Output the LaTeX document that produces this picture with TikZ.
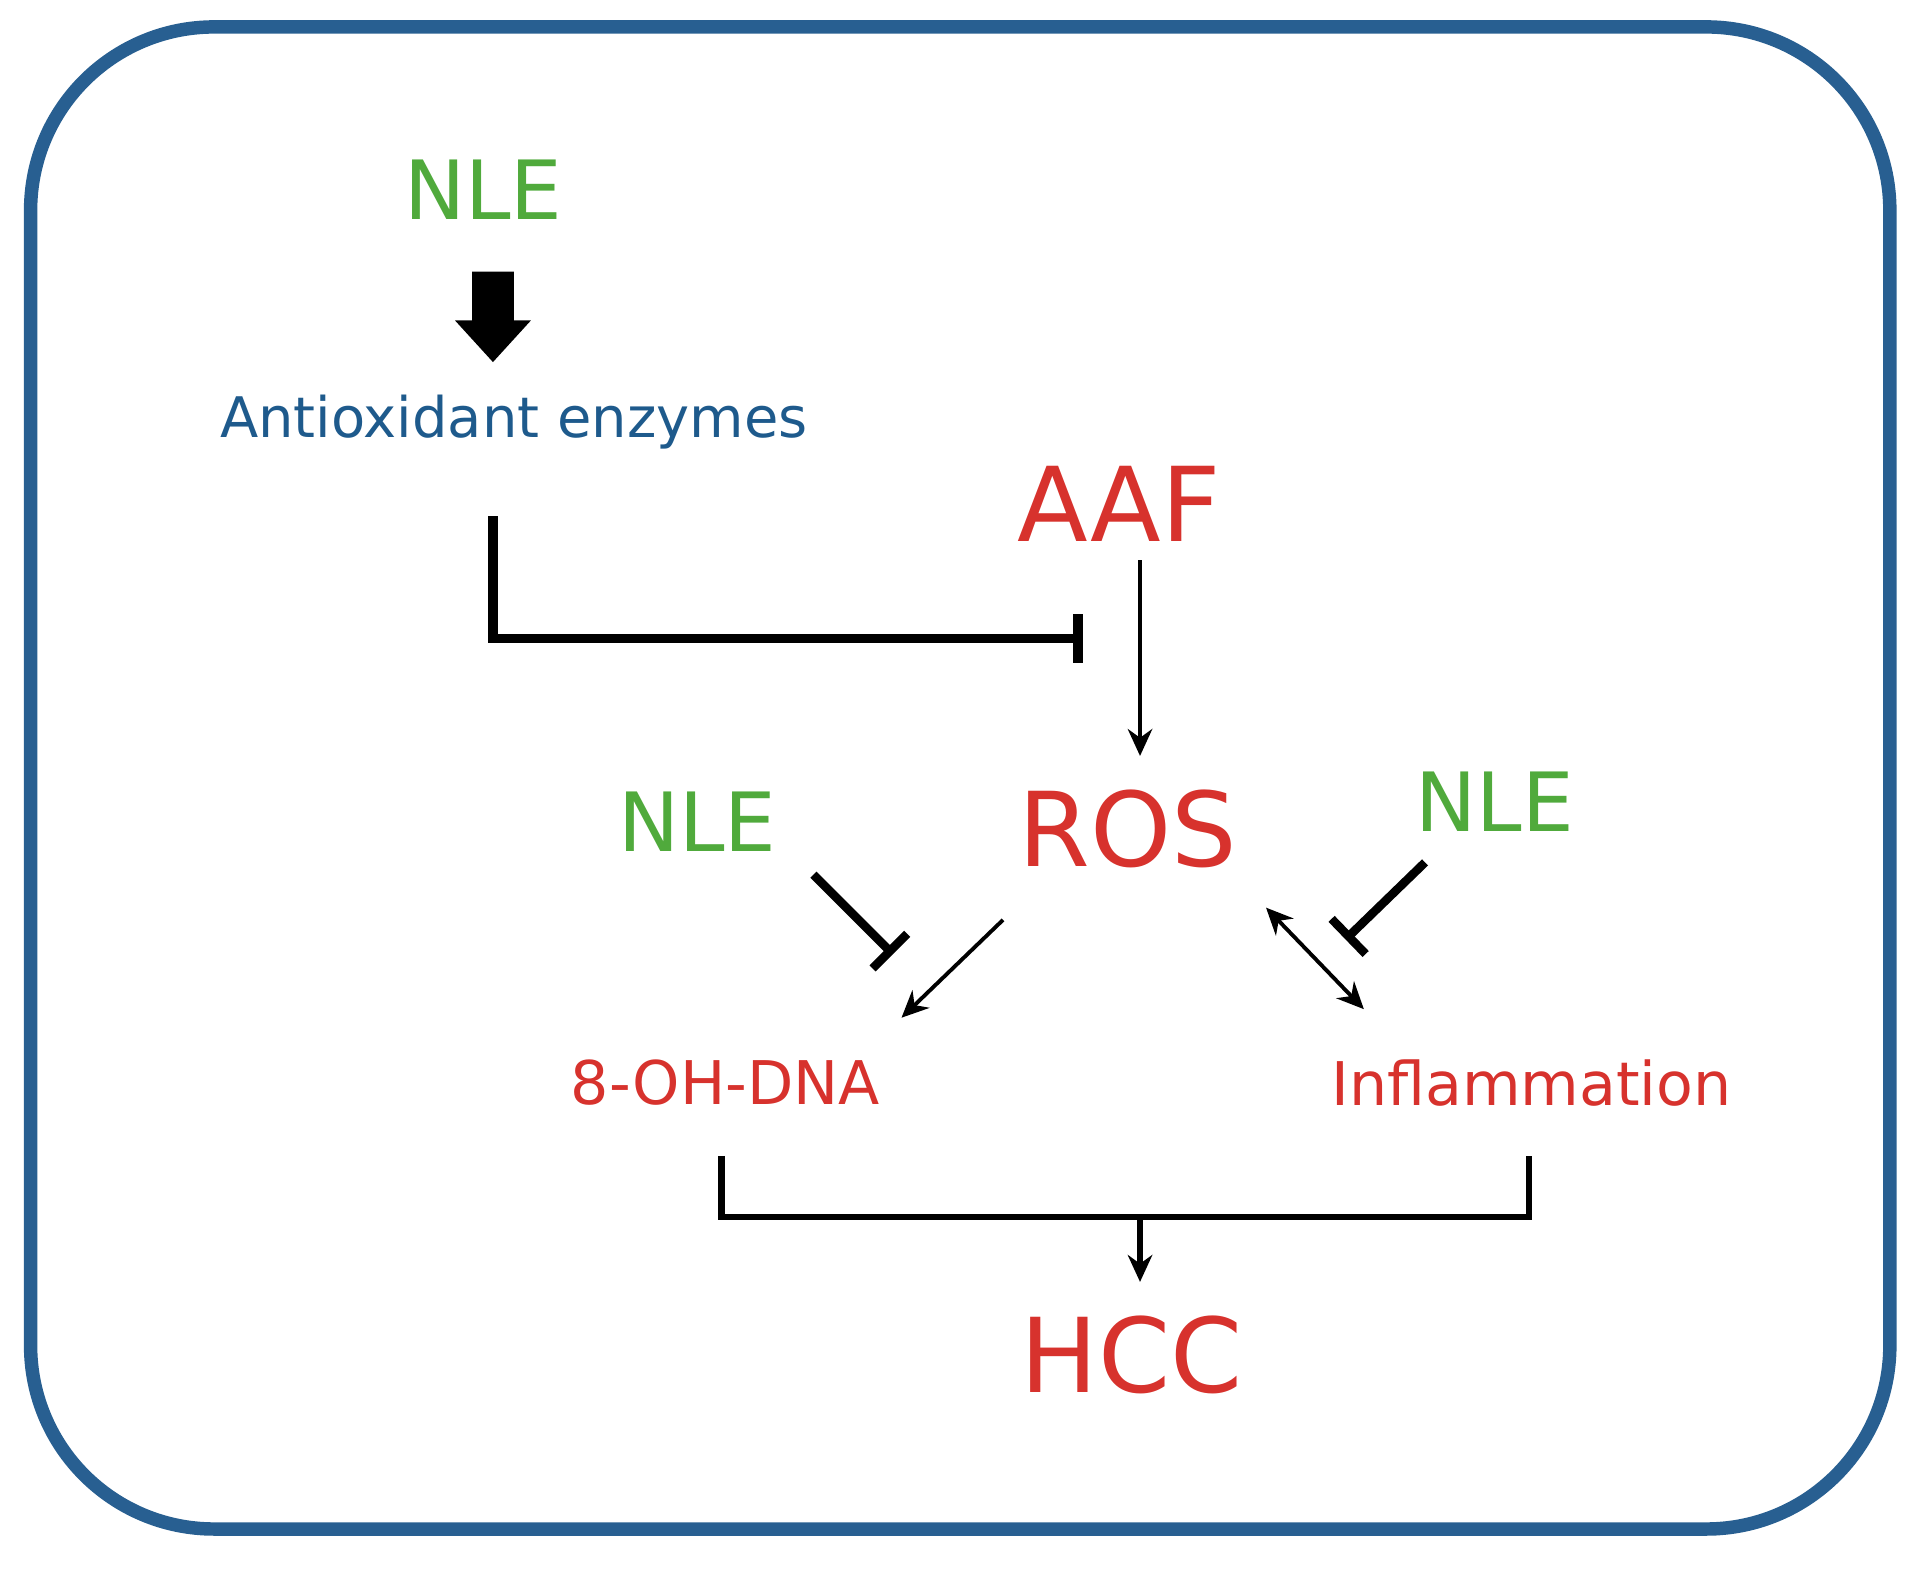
\documentclass[tikz,border=0pt]{standalone}
\usepackage{fontspec}
\setmainfont{DejaVu Sans}
\usetikzlibrary{arrows.meta}
\definecolor{nlegreen}{RGB}{80,170,60}
\definecolor{redtxt}{RGB}{215,50,45}
\definecolor{bluetxt}{RGB}{30,90,140}
\definecolor{framecol}{RGB}{40,95,145}
\tikzset{
  nle/.style={text=nlegreen, font=\fontsize{19}{19}\selectfont},
  big/.style={text=redtxt, font=\fontsize{24}{24}\selectfont},
  small/.style={text=redtxt, font=\fontsize{14}{14}\selectfont},
  act/.style={-{Stealth[length=2.2mm,width=2mm]}, line width=0.9pt},
  inh/.style={-{Bar[width=4mm]}, line width=2pt},
}
\begin{document}
\begin{tikzpicture}[x=0.01cm,y=-0.01cm]
  \useasboundingbox (0,0) rectangle (1568,1284);
  \draw[framecol, line width=1.1mm, rounded corners=1.5cm] (25,22) rectangle (1545,1250);

  \node[nle]                                  (nle1) at (395,155) {NLE};
  \node[text=bluetxt, font=\fontsize{13}{13}\selectfont] (anti) at (420,345) {Antioxidant enzymes};
  \node[big]                                  (aaf)  at (915,412) {AAF};
  \node[big]                                  (ros)  at (922,678) {ROS};
  \node[nle]                                  (nle2) at (570,672) {NLE};
  \node[nle]                                  (nle3) at (1222,655) {NLE};
  \node[small]                                (dna)  at (593,885) {8-OH-DNA};
  \node[small]                                (infl) at (1252,885) {Inflammation};
  \node[big]                                  (hcc)  at (925,1108) {HCC};

  % block arrow
  \fill (386,222) -- (420,222) -- (420,262) -- (434,262) -- (403,296)
        -- (372,262) -- (386,262) -- cycle;

  \coordinate (a1) at (403,422);
  \coordinate (a2) at (403,522);
  \coordinate (a3) at (885,522);
  \draw[inh, line width=2.2pt] (a1) -- (a2) -- (a3);

  \coordinate (r1) at (932,458);
  \coordinate (r2) at (932,618);
  \draw[act] (r1) -- (r2);

  \coordinate (l1) at (665,715);
  \coordinate (l2) at (730,780);
  \draw[inh] (l1) -- (l2);
  \coordinate (d1) at (820,752);
  \coordinate (d2) at (737,832);
  \draw[act] (d1) -- (d2);

  \coordinate (i1) at (1035,742);
  \coordinate (i2) at (1115,825);
  \draw[act, {Stealth[length=2.2mm,width=2mm]}-{Stealth[length=2.2mm,width=2mm]}] (i1) -- (i2);
  \coordinate (n1) at (1165,705);
  \coordinate (n2) at (1100,768);
  \draw[inh] (n1) -- (n2);

  \coordinate (b1) at (590,945);
  \coordinate (b2) at (590,995);
  \coordinate (b3) at (1250,995);
  \coordinate (b4) at (1250,945);
  \draw[line width=1.5pt] (b1) -- (b2) -- (b3) -- (b4);
  \coordinate (h1) at (932,995);
  \coordinate (h2) at (932,1048);
  \draw[act, line width=1.2pt] (h1) -- (h2);
\end{tikzpicture}
\end{document}
